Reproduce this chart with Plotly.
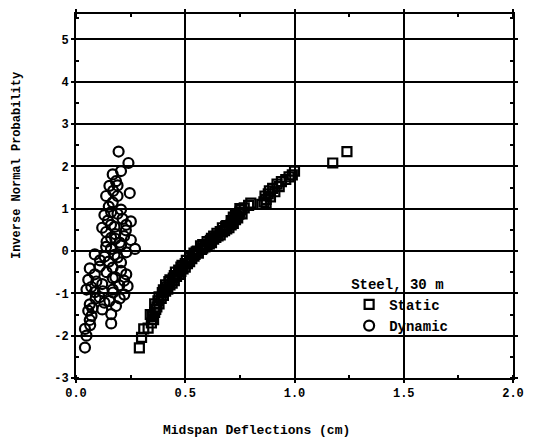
import plotly.graph_objects as go

# Static (squares)
static_x = [0.29, 0.30, 0.31, 0.33, 0.345, 0.355, 0.35, 0.36, 0.365, 0.37, 0.38, 0.375, 0.39, 0.40,
            0.395, 0.41, 0.42, 0.415, 0.43, 0.44, 0.425, 0.45, 0.445, 0.46, 0.47, 0.455, 0.48, 0.49,
            0.50, 0.485, 0.51, 0.52, 0.505, 0.53, 0.54, 0.545, 0.56, 0.555, 0.575, 0.58, 0.59, 0.60,
            0.61, 0.62, 0.615, 0.63, 0.64, 0.65, 0.66, 0.645, 0.67, 0.68, 0.69, 0.70, 0.685, 0.71,
            0.72, 0.715, 0.73, 0.74, 0.735, 0.745, 0.75, 0.755, 0.77, 0.79, 0.80, 0.85, 0.86, 0.87,
            0.865, 0.88, 0.885, 0.90, 0.92, 0.94, 0.96, 0.975, 0.99, 1.00, 1.175, 1.24,
            0.38, 0.40, 0.43, 0.45, 0.47, 0.50, 0.52, 0.55, 0.57, 0.60, 0.63, 0.66, 0.69, 0.71, 0.73,
            0.75, 0.87, 0.89, 0.91, 0.93, 0.34, 0.36, 0.41, 0.48, 0.58, 0.67, 0.72, 0.76, 0.62, 0.54]
static_y = [-2.29, -2.04, -1.84, -1.82, -1.70, -1.62, -1.55, -1.45, -1.38, -1.32, -1.25, -1.18, -1.12, -1.05,
            -0.98, -0.95, -0.90, -0.85, -0.80, -0.76, -0.72, -0.70, -0.64, -0.60, -0.55, -0.50, -0.48, -0.42,
            -0.38, -0.34, -0.30, -0.25, -0.22, -0.18, -0.12, -0.08, -0.05, 0.00, 0.04, 0.07, 0.10, 0.13,
            0.17, 0.20, 0.25, 0.28, 0.32, 0.36, 0.38, 0.42, 0.45, 0.48, 0.52, 0.55, 0.58, 0.62,
            0.65, 0.70, 0.74, 0.78, 0.82, 0.87, 0.92, 0.98, 1.02, 1.08, 1.13, 1.10, 1.16, 1.22,
            1.30, 1.35, 1.42, 1.48, 1.58, 1.64, 1.69, 1.75, 1.80, 1.89, 2.08, 2.35,
            -1.08, -0.92, -0.68, -0.58, -0.45, -0.30, -0.15, -0.02, 0.12, 0.22, 0.35, 0.46, 0.60, 0.72, 0.85,
            1.00, 1.12, 1.28, 1.40, 1.52, -1.50, -1.25, -0.80, -0.38, 0.15, 0.55, 0.80, 0.88, 0.30, -0.05]

# Dynamic (circles)
dynamic_x = [0.195, 0.24, 0.206, 0.168, 0.183, 0.153, 0.138, 0.19, 0.246, 0.168, 0.206, 0.161, 0.146,
             0.213, 0.251, 0.176, 0.228, 0.138, 0.161, 0.251, 0.18, 0.206, 0.27, 0.138, 0.086, 0.131,
             0.176, 0.206, 0.063, 0.108, 0.168, 0.086, 0.206, 0.168, 0.056, 0.093, 0.198, 0.236, 0.048,
             0.086, 0.123, 0.168, 0.221, 0.108, 0.153, 0.063, 0.183, 0.056, 0.071, 0.161, 0.063, 0.161,
             0.041, 0.048, 0.041,
             0.15, 0.13, 0.19, 0.16, 0.23, 0.12, 0.18, 0.22, 0.14, 0.20, 0.16, 0.23, 0.19, 0.15, 0.11,
             0.23, 0.14, 0.18, 0.07, 0.20, 0.13, 0.09, 0.075, 0.12, 0.065, 0.17, 0.22, 0.12, 0.19, 0.17]
dynamic_y = [2.35, 2.08, 1.89, 1.81, 1.65, 1.54, 1.30, 1.30, 1.37, 1.15, 0.98, 0.92, 0.72,
             0.76, 0.70, 0.57, 0.49, 0.45, 0.31, 0.26, 0.29, 0.14, 0.05, 0.10, -0.08, -0.13,
             -0.09, -0.27, -0.41, -0.37, -0.39, -0.55, -0.47, -0.64, -0.68, -0.72, -0.81, -0.83, -0.91,
             -0.97, -0.95, -0.91, -1.03, -1.09, -1.18, -1.26, -1.30, -1.41, -1.53, -1.49, -1.63, -1.71,
             -1.84, -2.00, -2.28,
             1.05, 0.85, 0.88, 0.62, 0.62, 0.55, 0.40, 0.35, 0.22, 0.20, 0.05, -0.03, -0.15, -0.25, -0.22,
             -0.55, -0.50, -0.62, -0.85, -1.12, -1.22, -1.12, -1.35, -1.38, -1.75, -0.98, -0.70, -0.78, 1.55, 1.42]

x_ticks = [0.0, 0.5, 1.0, 1.5, 2.0]
x_tick_text = ["0.0", "0.5", "1.0", "1.5", "2.0"]
y_ticks = [-3, -2, -1, 0, 1, 2, 3, 4, 5]
y_tick_text = ["-3", "-2", "-1", "0", "1", "2", "3", "4", "5"]

FONT = "Liberation Mono"

fig = go.Figure()
fig.add_trace(go.Scatter(
    x=static_x, y=static_y, mode="markers", name="Static",
    marker=dict(symbol="square-open", size=9, color="black", line=dict(width=2.2, color="black")),
))
fig.add_trace(go.Scatter(
    x=dynamic_x, y=dynamic_y, mode="markers", name="Dynamic",
    marker=dict(symbol="circle-open", size=10, color="black", line=dict(width=2.2, color="black")),
))

axis_common = dict(
    showline=True, linecolor="black", linewidth=2, mirror="ticks",
    showgrid=True, gridcolor="black", gridwidth=1.5,
    zeroline=False, ticks="outside", ticklen=3, tickcolor="black", tickwidth=1.5,
    tickfont=dict(family=FONT, size=12, color="black", weight="bold"),
)

fig.update_layout(
    width=533, height=438,
    margin=dict(l=76, r=13, t=9, b=60),
    paper_bgcolor="white", plot_bgcolor="white",
    xaxis=dict(range=[0, 2], tickvals=x_ticks, ticktext=x_tick_text,
               minor=dict(dtick=0.25, ticks="inside", ticklen=3, tickcolor="black", showgrid=False),
               **axis_common),
    yaxis=dict(range=[-3, 5.6], tickvals=y_ticks, ticktext=y_tick_text,
               minor=dict(dtick=0.5, ticks="inside", ticklen=3, tickcolor="black", showgrid=False),
               **axis_common),
    showlegend=True,
    legend=dict(
        x=0.625, y=0.295, xanchor="left", yanchor="top",
        bgcolor="rgba(0,0,0,0)",
        title=dict(text="Steel, 30 m", font=dict(family=FONT, size=14, color="black", weight="bold")),
        font=dict(family=FONT, size=14, color="black", weight="bold"),
        itemwidth=30, tracegroupgap=0,
    ),
    annotations=[
        dict(text="Inverse Normal Probability", textangle=-90, xref="paper", yref="paper",
             x=-0.155, y=0.583, showarrow=False,
             font=dict(family=FONT, size=12, color="black", weight="bold")),
        dict(text="Midspan Deflections (cm)", xref="paper", yref="paper",
             x=0.414, y=-0.145, yanchor="middle", showarrow=False,
             font=dict(family=FONT, size=13, color="black", weight="bold")),
    ],
)

fig.write_html("out.html")
